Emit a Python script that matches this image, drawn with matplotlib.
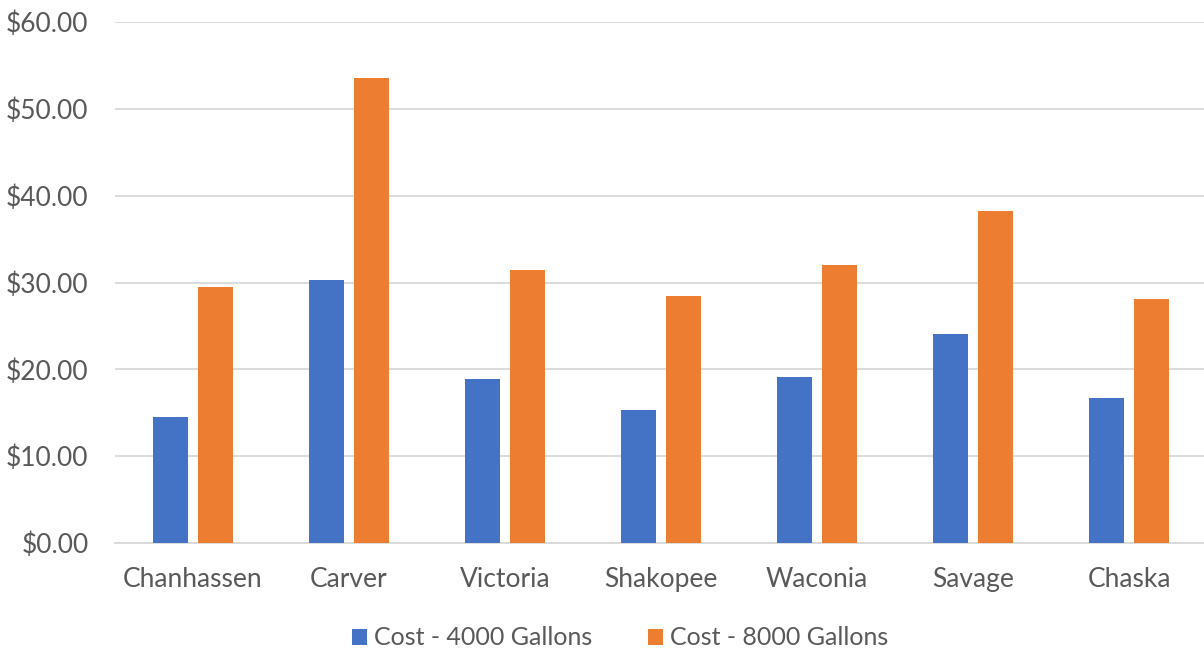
import matplotlib
matplotlib.use("Agg")
import matplotlib.pyplot as plt
import numpy as np
from matplotlib.ticker import FuncFormatter

# data
cities = ["Chanhassen", "Carver", "Victoria", "Shakopee", "Waconia", "Savage", "Chaska"]
cost_4000 = [14.5, 30.3, 18.9, 15.3, 19.1, 24.1, 16.7]
cost_8000 = [29.5, 53.6, 31.4, 28.4, 32.0, 38.2, 28.1]

blue = "#4472C4"
orange = "#ED7D31"
text_gray = "#595959"

plt.rcParams['font.family'] = ['Lato', 'DejaVu Sans']

fig = plt.figure(figsize=(12.04, 6.55), dpi=100)
ax = fig.add_axes([0.0955, 0.171, 0.907, 0.7954])

x = np.arange(len(cities))
w = 0.224
off = 0.144
ax.bar(x - off, cost_4000, w, color=blue, label="Cost - 4000 Gallons", zorder=3)
ax.bar(x + off, cost_8000, w, color=orange, label="Cost - 8000 Gallons", zorder=3)

ax.set_xlim(-0.5, len(cities) - 0.5)
ax.set_ylim(0, 60)
ax.set_yticks(range(0, 61, 10))
ax.yaxis.set_major_formatter(FuncFormatter(lambda v, p: f"${v:.2f}"))
ax.set_xticks(x)
ax.set_xticklabels(cities)

ax.grid(axis="y", color="#D9D9D9", linewidth=1.3, zorder=0)
for s in ["top", "right", "left"]:
    ax.spines[s].set_visible(False)
ax.spines["bottom"].set_color("#D9D9D9")
ax.spines["bottom"].set_linewidth(1.3)
ax.tick_params(axis="both", length=0, labelsize=19, colors=text_gray)
ax.tick_params(axis="x", pad=17)
ax.tick_params(axis="y", pad=19)

leg = fig.legend(loc="center", bbox_to_anchor=(0.515, 0.026), ncol=2, frameon=False,
                 fontsize=18, handlelength=0.6, handleheight=0.6, handletextpad=0.3,
                 columnspacing=2.2)
for t in leg.get_texts():
    t.set_color(text_gray)

fig.savefig("out.png", dpi=100)
